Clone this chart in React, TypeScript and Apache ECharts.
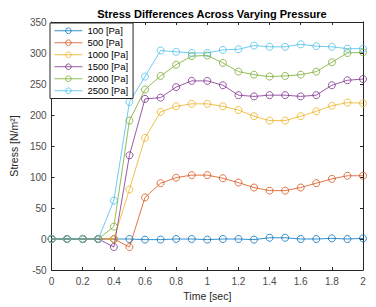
import React, { useEffect, useRef } from "react";
import * as echarts from "echarts";

const times = [0, 0.1, 0.2, 0.3, 0.4, 0.5, 0.6, 0.7, 0.8, 0.9, 1.0, 1.1, 1.2, 1.3, 1.4, 1.5, 1.6, 1.7, 1.8, 1.9, 2.0];
const seriesNames = ["100 [Pa]", "500 [Pa]", "1000 [Pa]", "1500 [Pa]", "2000 [Pa]", "2500 [Pa]"];
const s100 = [0, 0, 0, 0, 0, 0, -1, -1, 0, 0, -1, 0, 0, -1, 2, 2, 0, 0, 1, 0, 1];
const s500 = [0, 0, 0, 0, 0, -13, 67, 90, 99, 103, 103, 98, 91, 83, 78, 78, 83, 90, 97, 102, 102];
const s1000 = [0, 0, 0, 0, 0, 80, 163, 205, 214, 218, 218, 214, 208, 198, 191, 191, 198, 206, 215, 220, 219];
const s1500 = [0, 0, 0, 0, -13, 135, 226, 228, 245, 255, 255, 248, 232, 230, 232, 232, 230, 232, 248, 256, 258];
const s2000 = [0, 0, 0, 0, 20, 191, 241, 263, 281, 295, 296, 284, 270, 265, 262, 263, 265, 270, 285, 300, 301];
const s2500 = [0, 0, 0, 0, 62, 221, 262, 304, 302, 300, 300, 305, 306, 312, 310, 310, 314, 311, 310, 307, 307];
const colors = ["#0072BD", "#D95319", "#EDB120", "#7E2F8E", "#77AC30", "#4DBEEE"];
const allSeries = [s100, s500, s1000, s1500, s2000, s2500];

export default function App() {
  const ref = useRef<HTMLDivElement>(null);
  useEffect(() => {
    if (!ref.current) return;
    const chart = echarts.init(ref.current, null, { renderer: "svg" });
    const axisText = { color: "#4d4d4d", fontSize: 10, fontFamily: "Liberation Sans" };
    const axisLine = { show: true, onZero: false, lineStyle: { color: "#262626", width: 1 } };
    const tick = { show: true, inside: true, length: 3, lineStyle: { color: "#262626" } };
    chart.setOption({
      animation: false,
      backgroundColor: "#ffffff",
      textStyle: { fontFamily: "Liberation Sans" },
      title: {
        text: "Stress Differences Across Varying Pressure",
        left: 207,
        textAlign: "center",
        top: 3,
        textStyle: { fontSize: 11, fontWeight: "bold", color: "#000", fontFamily: "Liberation Sans" },
      },
      grid: { left: 48, right: 13, top: 22, bottom: 37, show: false },
      legend: {
        orient: "vertical",
        left: 50,
        top: 23,
        backgroundColor: "#ffffff",
        borderColor: "#262626",
        borderWidth: 1,
        borderRadius: 0,
        padding: [2, 5, 2, 4],
        itemGap: 0.5,
        itemWidth: 28,
        itemHeight: 7,
        lineStyle: { width: 0.8 },
        itemStyle: { color: "rgba(255,255,255,0)", borderWidth: 0.8 },
        textStyle: { fontSize: 9.5, color: "#000", fontFamily: "Liberation Sans", lineHeight: 11.5 },
        data: seriesNames,
      },
      xAxis: [
        {
          type: "value",
          min: 0,
          max: 2,
          interval: 0.2,
          name: "Time [sec]",
          nameLocation: "middle",
          nameGap: 18,
          nameTextStyle: { color: "#262626", fontSize: 10.5, fontFamily: "Liberation Sans" },
          axisLine,
          axisTick: tick,
          axisLabel: { ...axisText, margin: 6, formatter: (v: number) => String(Math.round(v * 10) / 10) },
          splitLine: { show: false },
        },
        {
          type: "value",
          position: "top",
          min: 0,
          max: 2,
          interval: 0.2,
          axisLine,
          axisTick: tick,
          axisLabel: { show: false },
          splitLine: { show: false },
        },
      ],
      yAxis: [
        {
          type: "value",
          min: -50,
          max: 350,
          interval: 50,
          name: "Stress [N/m²]",
          nameLocation: "middle",
          nameGap: 21,
          nameTextStyle: { color: "#262626", fontSize: 10.5, fontFamily: "Liberation Sans" },
          axisLine,
          axisTick: tick,
          axisLabel: { ...axisText, margin: 5 },
          splitLine: { show: false },
        },
        {
          type: "value",
          position: "right",
          min: -50,
          max: 350,
          interval: 50,
          axisLine,
          axisTick: tick,
          axisLabel: { show: false },
          splitLine: { show: false },
        },
      ],
      series: allSeries.map((arr, i) => ({
        name: seriesNames[i],
        type: "line",
        data: arr.map((v, j) => [times[j], v]),
        symbol: "circle",
        symbolSize: 7,
        color: colors[i],
        lineStyle: { width: 0.8, color: colors[i] },
        itemStyle: { color: "rgba(255,255,255,0)", borderColor: colors[i], borderWidth: 0.8 },
        emphasis: { disabled: true },
      })),
    });
    return () => chart.dispose();
  }, []);
  return <div ref={ref} style={{ position: "fixed", left: 0, top: 0, width: 376, height: 307 }} />;
}
